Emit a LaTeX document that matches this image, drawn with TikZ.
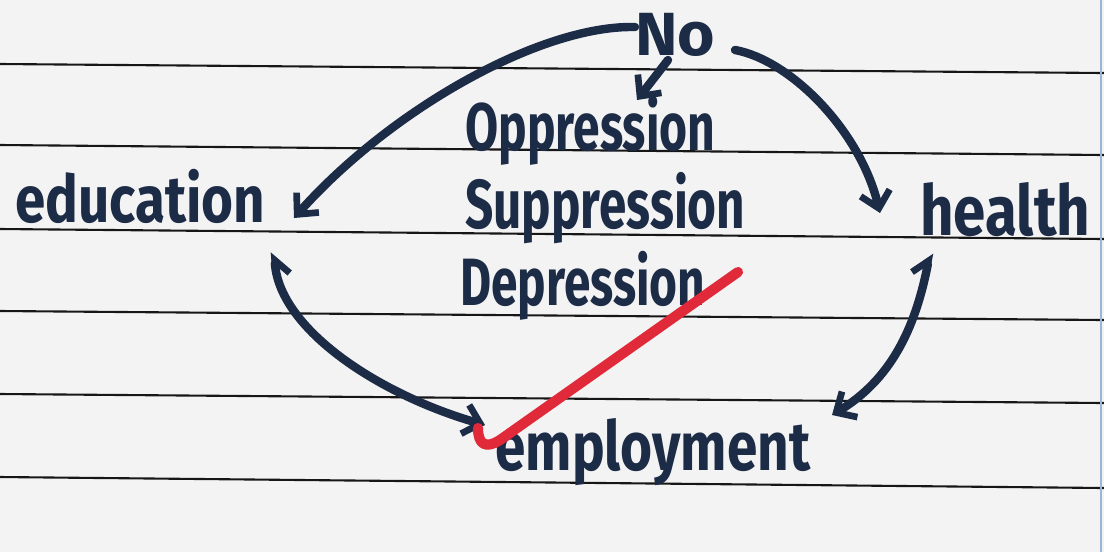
\documentclass[tikz,border=0pt]{standalone}
\usepackage{fontspec}
\setmainfont{Fira Sans}
\usepackage{graphicx}
\usetikzlibrary{arrows.meta}
\definecolor{ink}{HTML}{1C2B46}
\definecolor{paper}{HTML}{F3F3F3}
\definecolor{rulecol}{HTML}{161616}
\definecolor{redpen}{HTML}{E02A3A}
\definecolor{margin}{HTML}{9DB4DA}
\newcommand\hwtext[3]{\resizebox{#1}{!}{\scalebox{1}[#2]{#3}}}
\begin{document}
\begin{tikzpicture}[x=0.02cm,y=-0.02cm,
  word/.style={text=ink,font=\fontsize{27}{30}\selectfont\bfseries,anchor=base west,inner sep=0pt},
  inkline/.style={draw=ink,line width=4.8pt,line cap=round,line join=round},
  inkbarb/.tip={Straight Barb[length=9pt,width=17pt,line width=3.8pt]},
  inkharp/.tip={Straight Barb[length=8pt,width=16pt,line width=3.8pt,harpoon]},
  inkharpswap/.tip={Straight Barb[length=8pt,width=16pt,line width=3.8pt,harpoon,swap]},
  ruled/.style={draw=rulecol,line width=1.2pt},
  redstroke/.style={draw=redpen,line width=5.8pt,line cap=round,line join=round}]
\fill[paper] (0,0) rectangle (1104,552);
\useasboundingbox (0,0) rectangle (1104,552);
% ruled lines
\draw[ruled] (0,64) -- (1104,73);
\draw[ruled] (0,145) -- (1104,155);
\draw[ruled] (0,229) -- (1104,239);
\draw[ruled] (0,311) -- (1104,320);
\draw[ruled] (0,394) -- (1104,403);
\draw[ruled] (0,477) -- (1104,488);
\draw[margin,line width=1pt] (1101,0) -- (1101,552);
% words
\node[word] (no) at (635,55) {\hwtext{1.6cm}{0.95}{No}};
\node[word] (opp) at (465,150) {\hwtext{5cm}{1.4}{Oppression}};
\node[word] (sup) at (465,228) {\hwtext{5.6cm}{1.4}{Suppression}};
\node[word] (dep) at (460,305) {\hwtext{4.9cm}{1.4}{Depression}};
\node[word] (edu) at (15,222) {\hwtext{5cm}{1.2}{education}};
\node[word] (hea) at (920,235) {\hwtext{3.4cm}{1.2}{health}};
\node[word] (emp) at (495,470) {\hwtext{6.3cm}{1.25}{employment}};
% connector end points
\coordinate (noL) at (635,27);
\coordinate (noB) at (668,60);
\coordinate (noR) at (735,50);
\coordinate (eduTip) at (294,218);
\coordinate (oppTip) at (637,100);
\coordinate (heaTip) at (880,213);
\coordinate (heaLow) at (930,253);
\coordinate (empR) at (832,415);
\coordinate (empL) at (485,425);
\coordinate (eduLow) at (274,252);
% connectors
\draw[inkline,-{inkbarb}] (noL) .. controls (540,25) and (390,110) .. (eduTip);
\draw[inkline,-{inkbarb}] (noB) -- (oppTip);
\draw[inkline,-{inkbarb}] (noR) .. controls (790,60) and (860,130) .. (heaTip);
\draw[inkline,{inkbarb}-{inkharp}] (empR) .. controls (890,380) and (915,330) .. (heaLow);
\draw[inkline,{inkbarb}-{inkharpswap}] (empL) .. controls (380,395) and (280,330) .. (eduLow);
% red tick
\draw[redstroke] (478,428) .. controls (478,445) and (486,449) .. (500,440) -- (738,272);
\end{tikzpicture}
\end{document}
